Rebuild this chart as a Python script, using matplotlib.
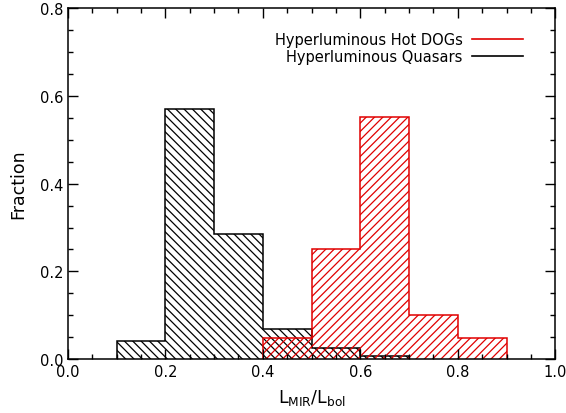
import matplotlib.pyplot as plt
import numpy as np
from matplotlib.ticker import MultipleLocator
from matplotlib.lines import Line2D

# bin edges and fractions
quasar_edges = [0.1, 0.2, 0.3, 0.4, 0.5, 0.6, 0.7]
quasar_frac = [0.042, 0.571, 0.285, 0.068, 0.025, 0.008]
hotdog_edges = [0.4, 0.5, 0.6, 0.7, 0.8, 0.9]
hotdog_frac = [0.049, 0.25, 0.551, 0.10, 0.049]
labels = ['Hyperluminous Hot DOGs', 'Hyperluminous Quasars']

red = '#e00000'
plt.rcParams['hatch.linewidth'] = 0.9

fig = plt.figure(figsize=(5.66, 4.14), dpi=100)
ax = fig.add_axes([0.120, 0.130, 0.861, 0.848])

# quasars (black, back-slash hatch)
ax.stairs(quasar_frac, quasar_edges, fill=True, facecolor='none',
          edgecolor='black', hatch='\\\\\\\\', linewidth=1.1)
# hot DOGs (red, forward-slash hatch)
ax.stairs(hotdog_frac, hotdog_edges, fill=True, facecolor='none',
          edgecolor=red, hatch='////', linewidth=1.1)

ax.set_xlim(0, 1.0)
ax.set_ylim(0, 0.8)
ax.xaxis.set_major_locator(MultipleLocator(0.2))
ax.xaxis.set_minor_locator(MultipleLocator(0.05))
ax.yaxis.set_major_locator(MultipleLocator(0.2))
ax.yaxis.set_minor_locator(MultipleLocator(0.05))
ax.xaxis.set_major_formatter(plt.FormatStrFormatter('%.1f'))
ax.yaxis.set_major_formatter(plt.FormatStrFormatter('%.1f'))
ax.tick_params(which='both', direction='in', top=True, right=True, labelsize=10.5)
ax.tick_params(which='major', length=7, width=1)
ax.tick_params(which='minor', length=3.5, width=1)
for s in ax.spines.values():
    s.set_linewidth(1.1)

ax.set_ylabel('Fraction', fontsize=12.5, labelpad=9)
ax.set_xlabel(r'L$_{\rm MIR}$/L$_{\rm bol}$', fontsize=12.5, labelpad=6)

handles = [Line2D([0], [0], color=red, lw=1.2),
           Line2D([0], [0], color='black', lw=1.2)]
ax.legend(handles, labels, loc='upper right', frameon=False, markerfirst=False,
          fontsize=10.5, handlelength=3.5, handletextpad=0.6, labelspacing=0.15,
          bbox_to_anchor=(0.96, 0.97))

fig.savefig('out.png', dpi=100)
